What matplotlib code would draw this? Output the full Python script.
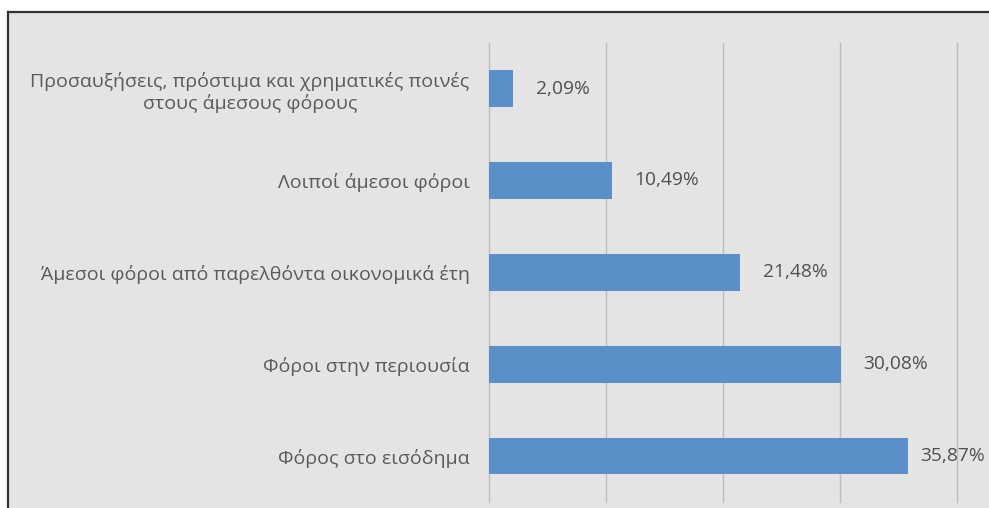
import matplotlib
matplotlib.use("Agg")
import matplotlib.pyplot as plt
from matplotlib.patches import Rectangle
from matplotlib.lines import Line2D

# Κατηγορίες άμεσων φόρων (από κάτω προς τα πάνω) και ποσοστά
κατηγορίες = [
    "Φόρος στο εισόδημα",
    "Φόροι στην περιουσία",
    "Άμεσοι φόροι από παρελθόντα οικονομικά έτη",
    "Λοιποί άμεσοι φόροι",
    "Προσαυξήσεις, πρόστιμα και χρηματικές ποινές\nστους άμεσους φόρους",
]
ποσοστά = [35.87, 30.08, 21.48, 10.49, 2.09]
άξονας_x = [0, 10, 20, 30, 40]

plt.rcParams["font.family"] = ["Open Sans", "DejaVu Sans"]

W, H = 989, 508
fig = plt.figure(figsize=(W / 100, H / 100), dpi=100)
fig.patch.set_facecolor("white")

# γκρι φόντο με περίγραμμα αριστερά και πάνω
x0, y0 = 8 / W, 1 - 12 / H
fig.patches.append(Rectangle((x0, 0), 1 - x0, y0, transform=fig.transFigure,
                             facecolor="#e4e4e4", edgecolor="none", zorder=-10))
fig.lines.append(Line2D([x0, x0], [0, y0], transform=fig.transFigure,
                        color="#333333", lw=1.6, zorder=-5))
fig.lines.append(Line2D([x0, 1], [y0, y0], transform=fig.transFigure,
                        color="#333333", lw=1.6, zorder=-5))

ax = fig.add_axes([489 / W, 1 - 502 / H, (956.5 - 489) / W, (502 - 42.7) / H])
ax.set_facecolor("none")

θέσεις = range(len(κατηγορίες))
ax.barh(θέσεις, ποσοστά, height=0.4, color="#5b8fc7", zorder=3)

ax.set_xlim(0, 40)
ax.set_ylim(-0.5, len(κατηγορίες) - 0.5)
ax.set_xticks(άξονας_x)
ax.set_xticklabels([])
ax.set_yticks(list(θέσεις))
ax.set_yticklabels(κατηγορίες, color="#5a5a5a", fontsize=14,
                   multialignment="center", linespacing=1.25)
ax.tick_params(axis="both", length=0, pad=14)
ax.grid(axis="x", color="#bcbcbc", lw=1, zorder=1)
for g in ax.get_xgridlines():
    g.set_clip_on(False)
for s in ax.spines.values():
    s.set_visible(False)

# ετικέτες τιμών δίπλα στις μπάρες
fig.canvas.draw()
r = fig.canvas.get_renderer()
for i, v in enumerate(ποσοστά):
    t = ax.text(v, i, f"{v:.2f}%".replace(".", ","), va="center", ha="left",
                color="#505050", fontsize=13.8, clip_on=False)
    bb = t.get_window_extent(r)
    end_px = ax.transData.transform((v, i))[0]
    x_px = min(end_px + 23, W - 4 - bb.width)
    t.set_x(ax.transData.inverted().transform((x_px, 0))[0])

fig.savefig("out.png", dpi=100)
